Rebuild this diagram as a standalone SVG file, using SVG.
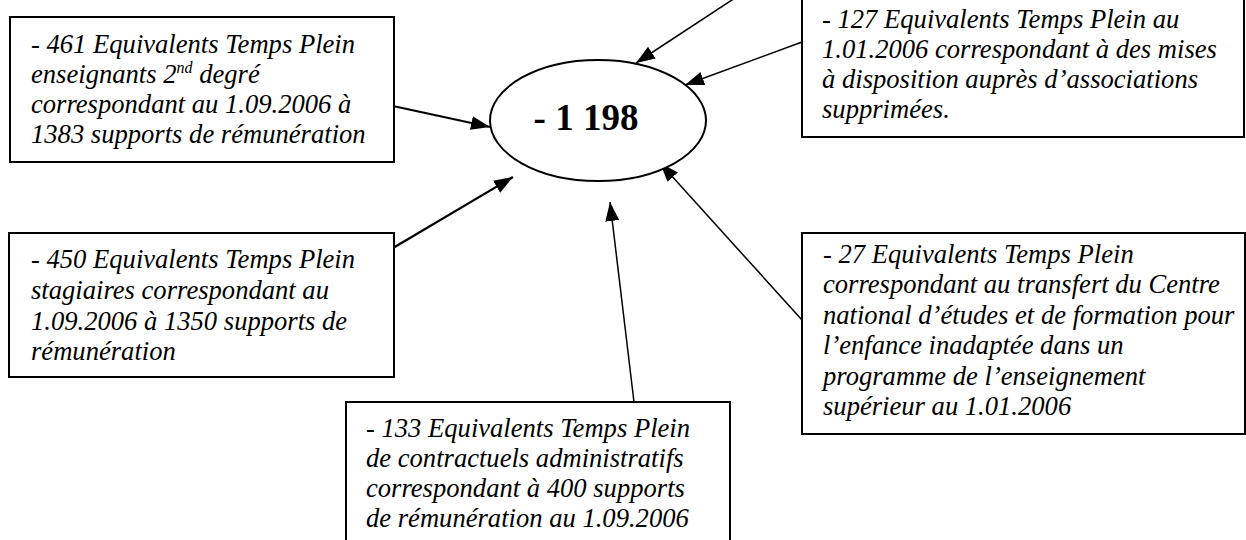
<svg xmlns="http://www.w3.org/2000/svg" width="1246" height="540" viewBox="0 0 1246 540">
<style>
.box{fill:#fff;stroke:#000;stroke-width:2}
.t{font-family:"Liberation Serif","Times New Roman",serif;font-style:italic;font-size:26.6px;fill:#000}
.big{font-family:"Liberation Serif","Times New Roman",serif;font-weight:bold;font-size:37px;fill:#000}
.c{stroke:#000;fill:none;marker-end:url(#ah)}
</style>
<defs>
<marker id="ah" markerUnits="userSpaceOnUse" markerWidth="20" markerHeight="16" refX="19" refY="7" orient="auto">
<path d="M0,0 L19,7 L0,14 Z" fill="#000"/>
</marker>
</defs>
<rect width="1246" height="540" fill="#fff"/>
<g id="connectors">
<line class="c" x1="393" y1="106" x2="490" y2="127" stroke-width="2.2"/>
<line class="c" x1="735" y1="-2" x2="636" y2="63" stroke-width="1.5"/>
<line class="c" x1="802" y1="42" x2="685" y2="85" stroke-width="1.5"/>
<line class="c" x1="393" y1="248" x2="513" y2="177" stroke-width="2.2"/>
<line class="c" x1="634" y1="402" x2="610" y2="202" stroke-width="1.5"/>
<line class="c" x1="802" y1="320" x2="660" y2="163" stroke-width="1.5"/>
</g>
<g id="center">
<ellipse cx="598" cy="120.5" rx="108" ry="60.5" fill="#fff" stroke="#000" stroke-width="2"/>
<text class="big" x="586" y="130" text-anchor="middle">- 1 198</text>
</g>
<g id="box461">
<rect class="box" x="10" y="17" width="384" height="145"/>
<text class="t" x="31" y="53">- 461 Equivalents Temps Plein</text>
<text class="t" x="31" y="83">enseignants 2<tspan font-size="16" dy="-10">nd</tspan><tspan dy="10"> degré</tspan></text>
<text class="t" x="31" y="113">correspondant au 1.09.2006 à</text>
<text class="t" x="31" y="143">1383 supports de rémunération</text>
</g>
<g id="box127">
<rect class="box" x="802" y="-5" width="442" height="142"/>
<text class="t" x="822" y="28">- 127 Equivalents Temps Plein au</text>
<text class="t" x="822" y="58">1.01.2006 correspondant à des mises</text>
<text class="t" x="822" y="88">à disposition auprès d’associations</text>
<text class="t" x="822" y="118">supprimées.</text>
</g>
<g id="box450">
<rect class="box" x="9" y="233" width="385" height="144"/>
<text class="t" x="31" y="268">- 450 Equivalents Temps Plein</text>
<text class="t" x="31" y="299">stagiaires correspondant au</text>
<text class="t" x="31" y="330">1.09.2006 à 1350 supports de</text>
<text class="t" x="31" y="360">rémunération</text>
</g>
<g id="box133">
<rect class="box" x="346" y="402" width="384" height="150"/>
<text class="t" x="366" y="437">- 133 Equivalents Temps Plein</text>
<text class="t" x="366" y="467">de contractuels administratifs</text>
<text class="t" x="366" y="497">correspondant à 400 supports</text>
<text class="t" x="366" y="527">de rémunération au 1.09.2006</text>
</g>
<g id="box27">
<rect class="box" x="802" y="233" width="443" height="201"/>
<text class="t" x="823" y="263">- 27 Equivalents Temps Plein</text>
<text class="t" x="823" y="293">correspondant au transfert du Centre</text>
<text class="t" x="823" y="324">national d’études et de formation pour</text>
<text class="t" x="823" y="354">l’enfance inadaptée dans un</text>
<text class="t" x="823" y="385">programme de l’enseignement</text>
<text class="t" x="823" y="415">supérieur au 1.01.2006</text>
</g>
</svg>
